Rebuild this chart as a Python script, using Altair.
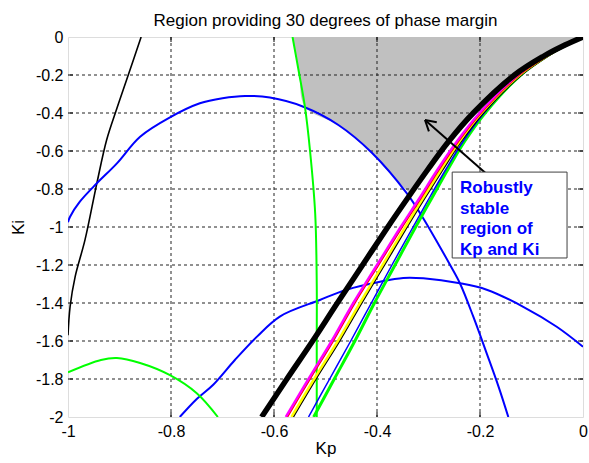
import altair as alt
import pandas as pd

# ---------------------------------------------------------------
# Stability-boundary curves in the (Kp, Ki) plane
# ---------------------------------------------------------------

# Family of boundary curves sharing the same Ki sample levels
KI_LEVELS = [0, -0.05, -0.1, -0.2, -0.4, -0.55, -0.7, -0.85, -1.0, -1.2, -1.4, -1.6, -1.8, -2.0]
KP_BOUNDARY = [0, -0.041, -0.076, -0.133, -0.213, -0.261, -0.302, -0.341, -0.379, -0.428, -0.477, -0.525, -0.575, -0.624]
KP_MAGENTA = [0, -0.039, -0.073, -0.127, -0.201, -0.245, -0.283, -0.318, -0.354, -0.400, -0.446, -0.488, -0.533, -0.577]
KP_RED = [0, -0.038, -0.071, -0.125, -0.199, -0.243, -0.281, -0.316, -0.352, -0.398, -0.444, -0.486, -0.531, -0.575]
KP_YELLOW = [0, -0.038, -0.070, -0.123, -0.197, -0.240, -0.276, -0.311, -0.345, -0.389, -0.433, -0.476, -0.522, -0.566]
KP_THIN_BLACK = [0, -0.036, -0.068, -0.120, -0.194, -0.237, -0.273, -0.308, -0.342, -0.386, -0.430, -0.473, -0.519, -0.563]
KP_BLUE_B = [0, -0.038, -0.071, -0.123, -0.192, -0.233, -0.267, -0.299, -0.330, -0.371, -0.411, -0.451, -0.492, -0.533]
KP_GREEN_B = [0, -0.038, -0.070, -0.121, -0.190, -0.230, -0.263, -0.294, -0.325, -0.365, -0.405, -0.443, -0.483, -0.523]

# Steep black curve on the left
BLACK_L_KP = [-1.0, -0.996, -0.986, -0.967, -0.944, -0.925, -0.905, -0.883, -0.858]
BLACK_L_KI = [-1.57, -1.42, -1.26, -1.068, -0.77, -0.542, -0.375, -0.20, 0.0]

# Upper blue arch
BLUE_U_KP = [-1.0, -0.996, -0.977, -0.944, -0.905, -0.86, -0.802, -0.744, -0.70, -0.656, -0.608,
             -0.543, -0.475, -0.41, -0.342, -0.31, -0.278, -0.258, -0.239, -0.213, -0.187, -0.164, -0.145]
BLUE_U_KI = [-0.975, -0.946, -0.867, -0.77, -0.665, -0.525, -0.423, -0.349, -0.322, -0.31, -0.319,
             -0.367, -0.463, -0.609, -0.823, -0.955, -1.104, -1.2, -1.296, -1.472, -1.665, -1.84, -2.0]

# Lower blue arch
BLUE_L_KP = [-0.783, -0.75, -0.718, -0.676, -0.633, -0.588, -0.511, -0.459, -0.394, -0.349, -0.31,
             -0.239, -0.187, -0.116, -0.051, 0.0]
BLUE_L_KI = [-2.0, -1.905, -1.83, -1.70, -1.577, -1.47, -1.384, -1.33, -1.288, -1.268, -1.27,
             -1.296, -1.33, -1.42, -1.525, -1.63]

# Nearly vertical green curve
GREEN_V_KP = [-0.564, -0.552, -0.540, -0.530, -0.520, -0.517, -0.517, -0.517]
GREEN_V_KI = [0.0, -0.18, -0.367, -0.60, -0.93, -1.3, -1.6, -2.0]

# Green arch, lower left
GREEN_L_KP = [-1.0, -0.936, -0.905, -0.86, -0.802, -0.75, -0.709]
GREEN_L_KI = [-1.765, -1.70, -1.69, -1.716, -1.78, -1.875, -2.0]

# Shaded robust region (left / right edges per Ki level)
GRAY_KI = [0, -0.05, -0.1, -0.2, -0.367, -0.463, -0.55, -0.609, -0.7, -0.823]
GRAY_LEFT = [-0.564, -0.561, -0.558, -0.551, -0.540, -0.475, -0.436, -0.410, -0.381, -0.336]
GRAY_RIGHT = [0, -0.041, -0.076, -0.133, -0.200, -0.234, -0.261, -0.277, -0.302, -0.334]

X_TICKS = [-1, -0.8, -0.6, -0.4, -0.2, 0]
Y_TICKS = [0, -0.2, -0.4, -0.6, -0.8, -1, -1.2, -1.4, -1.6, -1.8, -2]

TITLE = "Region providing 30 degrees of phase margin"
NOTE_LINES = ["Robustly", "stable", "region of", "Kp and Ki"]

FONT = "Liberation Sans"
PLOT_W, PLOT_H = 515, 380
TICK_LEN = 5

SX = alt.Scale(domain=[-1, 0], nice=False, zero=False)
SY = alt.Scale(domain=[-2, 0], nice=False, zero=False)

AX_X = alt.Axis(title="Kp", values=X_TICKS, labelExpr="'' + datum.value", grid=False, ticks=False,
                domain=False, labelFont=FONT, labelFontSize=16, labelColor="black", labelPadding=6,
                titleFont=FONT, titleFontSize=17, titleFontWeight="normal", titleColor="black",
                titlePadding=1, labelFlush=False)
AX_Y = alt.Axis(title="Ki", values=Y_TICKS, labelExpr="'' + datum.value", grid=False, ticks=False,
                domain=False, labelFont=FONT, labelFontSize=16, labelColor="black", labelPadding=5,
                titleFont=FONT, titleFontSize=17, titleFontWeight="normal", titleColor="black",
                titlePadding=8, labelFlush=False)


def X(field):
    return alt.X(field, type="quantitative", scale=SX, axis=AX_X)


def Y(field):
    return alt.Y(field, type="quantitative", scale=SY, axis=AX_Y)


def curve(kp, ki, color, width):
    df = pd.DataFrame({"kp": kp, "ki": ki, "i": range(len(kp))})
    return alt.Chart(df).mark_line(
        color=color, strokeWidth=width, clip=True, interpolate="catmull-rom"
    ).encode(x=X("kp"), y=Y("ki"), order="i:Q")


# shaded region
gray_df = pd.DataFrame({"ki": GRAY_KI, "left": GRAY_LEFT, "right": GRAY_RIGHT})
gray = alt.Chart(gray_df).mark_area(
    orient="horizontal", color="#c0c0c0", opacity=1, interpolate="catmull-rom"
).encode(y=Y("ki"), x=X("left"), x2="right")

# dashed grid
kp_inner = pd.DataFrame({"kp": X_TICKS[1:-1]})
ki_inner = pd.DataFrame({"ki": Y_TICKS[1:-1]})
vgrid = alt.Chart(kp_inner).mark_rule(color="#222222", strokeWidth=1, strokeDash=[3, 3]).encode(x=X("kp"))
hgrid = alt.Chart(ki_inner).mark_rule(color="#222222", strokeWidth=1, strokeDash=[3, 3]).encode(y=Y("ki"))

# inward tick marks on all four sides of the frame
tick_style = dict(color="black", strokeWidth=1)
ticks = [
    alt.Chart(kp_inner).mark_rule(**tick_style).encode(
        x=X("kp"), y=alt.value(PLOT_H - TICK_LEN), y2=alt.value(PLOT_H)),
    alt.Chart(kp_inner).mark_rule(**tick_style).encode(
        x=X("kp"), y=alt.value(0), y2=alt.value(TICK_LEN)),
    alt.Chart(ki_inner).mark_rule(**tick_style).encode(
        y=Y("ki"), x=alt.value(0), x2=alt.value(TICK_LEN)),
    alt.Chart(ki_inner).mark_rule(**tick_style).encode(
        y=Y("ki"), x=alt.value(PLOT_W - TICK_LEN), x2=alt.value(PLOT_W)),
]

layers = [
    gray, vgrid, hgrid, *ticks,
    curve(BLACK_L_KP, BLACK_L_KI, "black", 1.6),
    curve(BLUE_U_KP, BLUE_U_KI, "#0000ff", 2),
    curve(BLUE_L_KP, BLUE_L_KI, "#0000ff", 2),
    curve(GREEN_V_KP, GREEN_V_KI, "#00ff00", 2),
    curve(GREEN_L_KP, GREEN_L_KI, "#00ff00", 2),
    curve(KP_GREEN_B, KI_LEVELS, "#00ff00", 3),
    curve(KP_BLUE_B, KI_LEVELS, "#0000ff", 1.5),
    curve(KP_THIN_BLACK, KI_LEVELS, "black", 2),
    curve(KP_YELLOW, KI_LEVELS, "#ffff00", 2.5),
    curve(KP_RED, KI_LEVELS, "#ff0000", 2.5),
    curve(KP_MAGENTA, KI_LEVELS, "#ff00ff", 2.5),
    curve(KP_BOUNDARY, KI_LEVELS, "black", 5.5),
]

# annotation arrow (shaft + two head strokes)
arrow_df = pd.DataFrame({
    "x": [-0.181, -0.3068, -0.3068],
    "y": [-0.735, -0.437, -0.437],
    "x2": [-0.3068, -0.2992, -0.2839],
    "y2": [-0.437, -0.497, -0.449],
})
arrow = alt.Chart(arrow_df).mark_rule(color="black", strokeWidth=2).encode(
    x=X("x"), y=Y("y"), x2="x2", y2="y2"
)

# note box
box = alt.Chart(pd.DataFrame({"x": [-0.254], "x2": [-0.031], "y": [-0.711], "y2": [-1.163]})).mark_rect(
    fill="white", stroke="#404040", strokeWidth=1
).encode(x=X("x"), x2="x2", y=Y("y"), y2="y2")

note_df = pd.DataFrame({"t": NOTE_LINES, "x": [-0.2388] * 4, "y": [-0.819, -0.929, -1.037, -1.146]})
note = alt.Chart(note_df).mark_text(
    align="left", baseline="alphabetic", font=FONT, fontWeight="bold", fontSize=17, color="#0000ff"
).encode(x=X("x"), y=Y("y"), text="t")

# chart heading, centred over the plot area
heading = alt.Chart(pd.DataFrame({"t": [TITLE]})).mark_text(
    align="center", baseline="alphabetic", font=FONT, fontSize=17, color="black"
).encode(x=alt.value(PLOT_W / 2), y=alt.value(-11), text="t")

chart = alt.layer(*layers, arrow, box, note, heading).properties(
    width=PLOT_W,
    height=PLOT_H,
    autosize=alt.AutoSizeParams(type="none"),
    padding={"left": 68, "top": 37, "right": 6, "bottom": 46},
).configure_view(stroke="black", strokeWidth=2).configure(background="white")

chart.save("out.html", embed_options={"renderer": "svg", "actions": False})
